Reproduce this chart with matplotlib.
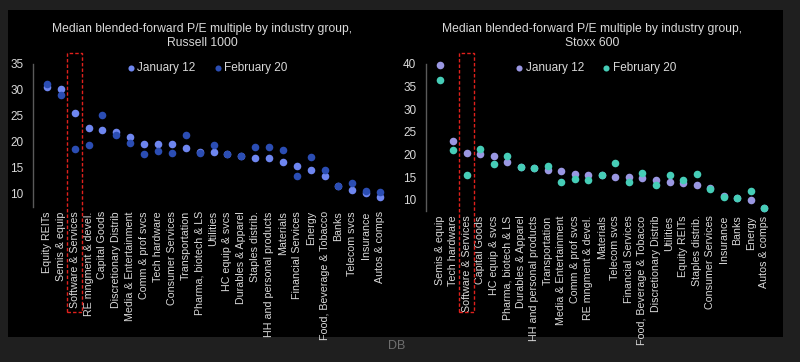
import matplotlib
matplotlib.use("Agg")
import matplotlib.pyplot as plt
from matplotlib.patches import Rectangle
import matplotlib.transforms as mtransforms

plt.rcParams['font.family'] = ['Liberation Sans', 'DejaVu Sans']

# ---- Data: Russell 1000 ----
r_cats = ["Equity REITs", "Semis & equip", "Software & Services", "RE mngment & devel.",
          "Capital Goods", "Discretionary Distrib", "Media & Entertainment", "Comm & prof svcs",
          "Tech hardware", "Consumer Services", "Transportation", "Pharma, biotech & LS",
          "Utilities", "HC equip & svcs", "Durables & Apparel", "Staples distrib.",
          "HH and personal products", "Materials", "Financial Services", "Energy",
          "Food, Beverage & Tobacco", "Banks", "Telecom svcs", "Insurance", "Autos & comps"]
r_jan = [30.5, 30.2, 25.6, 22.6, 22.4, 21.9, 20.9, 19.7, 19.7, 19.6, 18.8, 18.1,
         18.0, 17.7, 17.3, 17.0, 16.9, 16.1, 15.4, 14.6, 13.5, 11.6, 10.8, 10.25, 9.4]
r_feb = [31.1, 29.0, 18.7, 19.4, 25.1, 21.4, 19.9, 17.6, 18.3, 17.9, 21.3, 17.95,
         19.4, 17.6, 17.3, 19.1, 19.1, 18.5, 13.4, 17.1, 14.6, 11.5, 12.1, 10.6, 10.3]

# ---- Data: Stoxx 600 ----
s_cats = ["Semis & equip", "Tech hardware", "Software & Services", "Capital Goods",
          "HC equip & svcs", "Pharma, biotech & LS", "Durables & Apparel",
          "HH and personal products", "Transportation", "Media & Entertainment",
          "Comm & prof svcs", "RE mngment & devel.", "Materials", "Telecom svcs",
          "Financial Services", "Food, Beverage & Tobacco", "Discretionary Distrib",
          "Utilities", "Equity REITs", "Staples distrib.", "Consumer Services",
          "Insurance", "Banks", "Energy", "Autos & comps"]
s_jan = [39.8, 23.1, 20.4, 20.1, 19.6, 18.3, 17.3, 17.1, 16.6, 16.5, 15.7, 15.5,
         15.4, 15.0, 15.0, 14.85, 14.3, 14.0, 13.8, 13.2, 12.6, 10.8, 10.5, 10.0, 8.3]
s_feb = [36.4, 21.1, 15.4, 21.2, 17.9, 19.6, 17.3, 17.1, 17.4, 13.9, 14.7, 14.4,
         15.4, 18.2, 14.0, 16.0, 13.2, 15.4, 14.4, 15.7, 12.4, 10.7, 10.5, 11.9, 8.3]

r_title = "Median blended-forward P/E multiple by industry group,\nRussell 1000"
s_title = "Median blended-forward P/E multiple by industry group,\nStoxx 600"
r_yticks = [10, 15, 20, 25, 30, 35]
s_yticks = [10, 15, 20, 25, 30, 35, 40]
highlight = "Software & Services"

W, H = 800, 362
fig = plt.figure(figsize=(W / 100, H / 100), dpi=100)
fig.patch.set_facecolor("#1f1f1f")

# black panel behind both charts
bg = fig.add_axes([8 / W, 1 - 337 / H, (783 - 8) / W, (337 - 10) / H], zorder=-10)
bg.set_facecolor("black")
bg.set_xticks([]); bg.set_yticks([])
for s in bg.spines.values():
    s.set_visible(False)

txt = "#d9d9d9"


def panel(rect, cats, jan, feb, c_jan, c_feb, yticks, ylim, title, title_x, leg_x):
    ax = fig.add_axes(rect)
    ax.set_facecolor("none")
    x = list(range(len(cats)))
    ax.scatter(x, jan, s=30, color=c_jan, label="January 12", zorder=3, linewidths=0,
               clip_on=False)
    ax.scatter(x, feb, s=30, color=c_feb, label="February 20", zorder=4, linewidths=0,
               clip_on=False)
    ax.set_xlim(-1, len(cats))
    ax.set_ylim(*ylim)
    ax.set_yticks(yticks)
    ax.set_xticks(x)
    ax.set_xticklabels(cats, rotation=90, fontsize=7.7, color=txt)
    ax.tick_params(axis="x", length=0, pad=3)
    ax.tick_params(axis="y", length=0, pad=7, labelsize=8.5, labelcolor=txt)
    for s in ["top", "right", "bottom"]:
        ax.spines[s].set_visible(False)
    ax.spines["left"].set_color("#5a5a5a")
    ax.spines["left"].set_linewidth(1.0)
    leg = ax.legend(loc="upper center", bbox_to_anchor=(leg_x, 1.085), ncol=2,
                    frameon=False, fontsize=8.5, handletextpad=0.05,
                    columnspacing=1.4, markerscale=0.8, handlelength=1.0)
    for t in leg.get_texts():
        t.set_color(txt)
    fig.text(title_x / W, 1 - 23 / H, title, ha="center", va="top",
             fontsize=8.7, color=txt, linespacing=1.2)
    i = cats.index(highlight)
    trans = mtransforms.blended_transform_factory(ax.transData, ax.transAxes)
    return ax, i, trans


axL, iL, trL = panel([33 / W, 1 - 207 / H, (394 - 33) / W, 143 / H], r_cats, r_jan, r_feb,
                     "#6e86f0", "#2b4db3", r_yticks, (7.5, 35), r_title, 202, 0.48)
axL.add_patch(Rectangle((iL - 0.56, -0.732), 1.12, 1.079 + 0.732, transform=trL,
                        fill=False, edgecolor="#e0201c", linestyle=(0, (2.5, 1.5)),
                        linewidth=1.0, clip_on=False, zorder=5))

axR, iR, trR = panel([426 / W, 1 - 211.3 / H, (777.8 - 426) / W, 147.3 / H], s_cats, s_jan, s_feb,
                     "#9a97e2", "#46cdb7", s_yticks, (7.5, 40), s_title, 592, 0.48)
axR.add_patch(Rectangle((iR - 0.58, -0.682), 1.16, 1.073 + 0.682, transform=trR,
                        fill=False, edgecolor="#e0201c", linestyle=(0, (2.5, 1.5)),
                        linewidth=1.0, clip_on=False, zorder=5))

fig.text(397 / W, 1 - 346 / H, "DB", ha="center", va="center", fontsize=9, color="#6f6f6f")

fig.savefig("out.png", dpi=100, facecolor=fig.get_facecolor())
